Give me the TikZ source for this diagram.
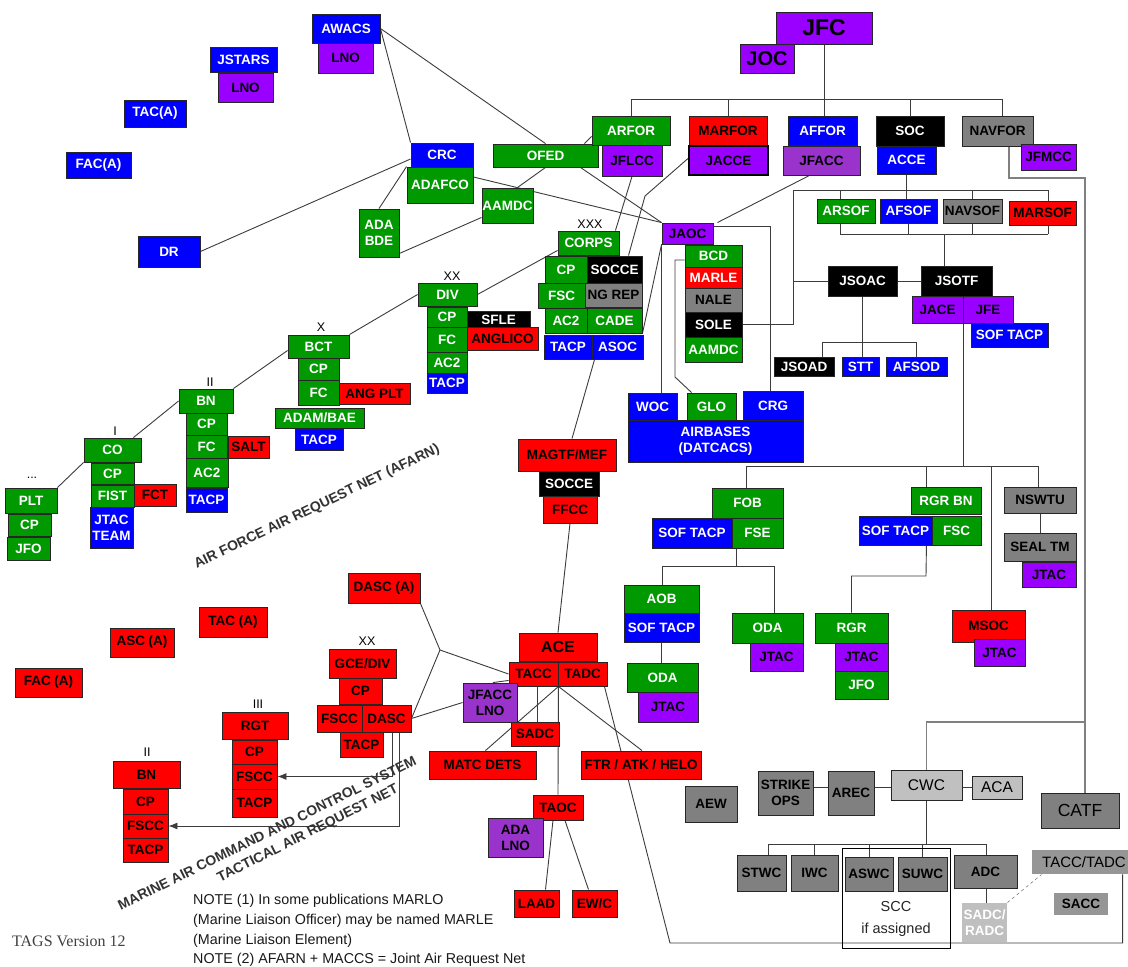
\documentclass[tikz,border=0pt]{standalone}
\usepackage{fontspec}
\newfontfamily\lsans{Liberation Sans}
\newfontfamily\lserif{Liberation Serif}
\usetikzlibrary{calc,arrows.meta}
\pgfdeclarelayer{paper}
\pgfdeclarelayer{wires}
\pgfsetlayers{paper,wires,main}

\definecolor{armygreen}{RGB}{0,153,0}
\definecolor{unitblue}{RGB}{0,0,255}
\definecolor{unitviolet}{RGB}{153,0,255}
\definecolor{unitplum}{RGB}{153,51,204}
\definecolor{unitred}{RGB}{255,0,0}
\definecolor{unitgray}{RGB}{128,128,128}
\definecolor{unitlight}{RGB}{192,192,192}
\definecolor{unitmid}{RGB}{150,150,150}
\definecolor{wirecol}{RGB}{60,60,60}

\newcommand\unitfont{\lsans\bfseries\fontsize{13.5}{16}\selectfont}

% \unitbox{name}{x1}{y1}{x2}{y2}{style}{text}
\newcommand\unitbox[7]{%
  \pgfmathsetmacro\ubw{#4-#2}%
  \pgfmathsetmacro\ubh{#5-#3}%
  \pgfmathsetmacro\ubx{(#2+#4)/2}%
  \pgfmathsetmacro\uby{(#3+#5)/2}%
  \node[unit,#6,minimum width=\ubw pt,minimum height=\ubh pt] (#1) at (\ubx,\uby) {#7};}

\begin{document}
\begin{tikzpicture}[x=1pt,y=-1pt,
  unit/.style={draw=black!85,line width=0.9pt,inner sep=0pt,align=center,font=\unitfont},
  ug/.style={fill=armygreen,text=white},
  ub/.style={fill=unitblue,text=white},
  uk/.style={fill=black,text=white},
  ur/.style={fill=unitred,text=black},
  uv/.style={fill=unitviolet,text=black},
  up/.style={fill=unitplum,text=black},
  uy/.style={fill=unitgray,text=black},
  ul/.style={fill=unitlight,text=black},
  um/.style={fill=unitmid,text=black},
  plain/.style={font=\lsans\fontsize{15}{17}\selectfont},
  echelon/.style={font=\lsans\fontsize{12.5}{13}\selectfont,inner sep=0pt},
  netlabel/.style={font=\lsans\bfseries\fontsize{14}{18}\selectfont,text=black!80,align=center,inner sep=0pt},
  note/.style={font=\lsans\fontsize{14.3}{16}\selectfont,text=black!90,inner sep=0pt},
  wire/.style={draw=wirecol,line width=0.9pt},
  greywire/.style={draw=black!50,line width=1.1pt},
  arrow/.style={-{Latex[length=9pt,width=7pt]}}
]
\begin{pgfonlayer}{paper}
  \fill[white] (0,0) rectangle (1128,967);
\end{pgfonlayer}
\useasboundingbox (0,0) rectangle (1128,967);

% ---------------- air picture, upper left
\unitbox{awacs}{312}{14}{380}{43}{ub}{AWACS}
\unitbox{awlno}{318}{43}{373}{73}{uv}{LNO}
\unitbox{jstars}{210}{47}{277}{72}{ub}{JSTARS}
\unitbox{jslno}{218}{73}{273}{102}{uv}{LNO}
\unitbox{taca}{124}{100}{186}{127}{ub}{TAC(A)}
\unitbox{faca}{66}{152}{131}{178}{ub}{FAC(A)}
\unitbox{dr}{138}{236}{200}{267}{ub}{DR}
\unitbox{crc}{411}{143}{473}{167}{ub}{CRC}
\unitbox{adafco}{407}{167}{473}{203}{ug}{ADAFCO}
\unitbox{adabde}{359}{209}{399}{257}{ug}{ADA\\BDE}
\unitbox{ofed}{493}{144}{598}{167}{ug}{OFED}
\unitbox{aamdca}{482}{188}{533}{223}{ug}{AAMDC}

% ---------------- joint force commander and components
\unitbox{jfc}{776}{12}{872}{44}{uv,font=\lsans\bfseries\fontsize{23}{25}\selectfont}{JFC}
\unitbox{joc}{740}{44}{794}{73}{uv,font=\lsans\bfseries\fontsize{20}{22}\selectfont}{JOC}
\unitbox{arfor}{592}{116}{670}{145}{ug}{ARFOR}
\unitbox{jflcc}{602}{145}{662}{176}{uv}{JFLCC}
\unitbox{marfor}{689}{116}{767}{145}{ur}{MARFOR}
\unitbox{jacce}{689}{146}{768}{175}{uv,line width=2pt,draw=black}{JACCE}
\unitbox{affor}{788}{116}{857}{145}{ub}{AFFOR}
\unitbox{jfacc}{783}{146}{860}{175}{up}{JFACC}
\unitbox{soc}{876}{116}{944}{146}{uk}{SOC}
\unitbox{acce}{877}{146}{936}{174}{ub}{ACCE}
\unitbox{navfor}{962}{116}{1033}{146}{uy}{NAVFOR}
\unitbox{jfmcc}{1021}{144}{1076}{170}{uv}{JFMCC}

% ---------------- special operations
\unitbox{arsof}{817}{199}{875}{223}{ug}{ARSOF}
\unitbox{afsof}{880}{199}{937}{223}{ub}{AFSOF}
\unitbox{navsof}{943}{199}{1002}{223}{uy}{NAVSOF}
\unitbox{marsof}{1009}{201}{1076}{225}{ur}{MARSOF}
\unitbox{jsoac}{828}{266}{897}{296}{uk}{JSOAC}
\unitbox{jsotf}{921}{266}{992}{296}{uk}{JSOTF}
\unitbox{jace}{912}{296}{963}{323}{uv}{JACE}
\unitbox{jfe}{963}{296}{1013}{323}{uv}{JFE}
\unitbox{softacpa}{971}{323}{1048}{347}{ub}{SOF TACP}
\unitbox{jsoad}{774}{357}{834}{376}{uk}{JSOAD}
\unitbox{stt}{842}{357}{879}{376}{ub}{STT}
\unitbox{afsod}{886}{357}{947}{376}{ub}{AFSOD}

% ---------------- JAOC and airbases
\unitbox{jaoc}{662}{223}{713}{244}{uv}{JAOC}
\unitbox{bcd}{685}{245}{742}{267}{ug}{BCD}
\unitbox{marle}{685}{267}{742}{288}{fill=unitred,text=white}{MARLE}
\unitbox{nale}{685}{288}{742}{312}{uy}{NALE}
\unitbox{sole}{685}{312}{742}{337}{uk}{SOLE}
\unitbox{aamdcb}{685}{337}{742}{362}{ug}{AAMDC}
\unitbox{woc}{628}{393}{677}{420}{ub}{WOC}
\unitbox{glo}{687}{393}{736}{420}{ug}{GLO}
\unitbox{crg}{743}{391}{803}{420}{ub}{CRG}
\unitbox{airb}{628}{420}{803}{462}{ub}{AIRBASES\\(DATCACS)}

% ---------------- army echelons
\unitbox{corps}{558}{231}{619}{255}{ug}{CORPS}
\unitbox{ccp}{545}{256}{587}{283}{ug}{CP}
\unitbox{soccea}{587}{256}{642}{283}{uk}{SOCCE}
\unitbox{fsca}{538}{283}{585}{308}{ug}{FSC}
\unitbox{ngrep}{585}{283}{642}{307}{uy}{NG REP}
\unitbox{cacb}{545}{308}{587}{333}{ug}{AC2}
\unitbox{cade}{587}{308}{642}{333}{ug}{CADE}
\unitbox{ctacp}{544}{335}{592}{359}{ub}{TACP}
\unitbox{asoc}{592}{335}{643}{359}{ub}{ASOC}

\unitbox{div}{418}{283}{477}{306}{ug}{DIV}
\unitbox{dcp}{427}{307}{467}{327}{ug}{CP}
\unitbox{sfle}{467}{311}{530}{328}{uk}{SFLE}
\unitbox{dfc}{427}{327}{467}{352}{ug}{FC}
\unitbox{anglico}{467}{327}{538}{350}{ur}{ANGLICO}
\unitbox{dac}{427}{352}{467}{373}{ug}{AC2}
\unitbox{dtacp}{427}{373}{467}{393}{ub}{TACP}

\unitbox{bct}{288}{335}{349}{358}{ug}{BCT}
\unitbox{bcp}{298}{358}{339}{380}{ug}{CP}
\unitbox{bfc}{298}{380}{339}{405}{ug}{FC}
\unitbox{angplt}{339}{383}{410}{404}{ur}{ANG PLT}
\unitbox{adam}{275}{408}{364}{428}{ug}{ADAM/BAE}
\unitbox{btacp}{295}{429}{343}{450}{ub}{TACP}

\unitbox{bn}{179}{389}{233}{413}{ug}{BN}
\unitbox{ncp}{186}{413}{227}{435}{ug}{CP}
\unitbox{nfc}{186}{435}{227}{458}{ug}{FC}
\unitbox{salt}{228}{436}{269}{458}{ur}{SALT}
\unitbox{nac}{186}{458}{228}{487}{ug}{AC2}
\unitbox{ntacp}{186}{488}{227}{512}{ub}{TACP}

\unitbox{co}{84}{438}{141}{462}{ug}{CO}
\unitbox{ocp}{91}{463}{134}{484}{ug}{CP}
\unitbox{fist}{91}{485}{134}{507}{ug}{FIST}
\unitbox{fct}{134}{484}{176}{506}{ur}{FCT}
\unitbox{jtacteam}{90}{507}{133}{548}{ub}{JTAC\\TEAM}

\unitbox{plt}{5}{488}{57}{513}{ug}{PLT}
\unitbox{pcp}{8}{514}{51}{536}{ug}{CP}
\unitbox{jfoa}{7}{537}{50}{560}{ug}{JFO}

\node[echelon] (eXXX) at (590,224) {XXX};
\node[echelon] (eXX) at (452,276) {XX};
\node[echelon] (eX) at (321,327) {X};
\node[echelon] (eII) at (210,382) {II};
\node[echelon] (eI) at (115,431) {I};
\node[echelon] (eDots) at (32,478) {...};

% ---------------- SOF ground units
\unitbox{fob}{712}{488}{783}{518}{ug}{FOB}
\unitbox{softacpb}{652}{518}{732}{548}{ub}{SOF TACP}
\unitbox{fse}{732}{518}{783}{548}{ug}{FSE}
\unitbox{aob}{624}{585}{699}{613}{ug}{AOB}
\unitbox{softacpc}{624}{613}{699}{642}{ub}{SOF TACP}
\unitbox{odaa}{627}{663}{698}{692}{ug}{ODA}
\unitbox{jtaca}{638}{692}{698}{722}{uv}{JTAC}
\unitbox{odab}{732}{613}{803}{643}{ug}{ODA}
\unitbox{jtacb}{750}{643}{803}{671}{uv}{JTAC}
\unitbox{rgrbn}{911}{487}{981}{514}{ug}{RGR BN}
\unitbox{softacpd}{859}{516}{932}{545}{ub}{SOF TACP}
\unitbox{fscb}{932}{516}{981}{545}{ug}{FSC}
\unitbox{rgr}{815}{613}{888}{643}{ug}{RGR}
\unitbox{jtacc}{835}{643}{888}{671}{uv}{JTAC}
\unitbox{jfob}{835}{671}{888}{699}{ug}{JFO}
\unitbox{msoc}{952}{610}{1025}{642}{ur}{MSOC}
\unitbox{jtacd}{974}{639}{1025}{666}{uv}{JTAC}
\unitbox{nswtu}{1004}{487}{1076}{513}{uy}{NSWTU}
\unitbox{sealtm}{1004}{533}{1076}{561}{uy}{SEAL TM}
\unitbox{jtace}{1022}{562}{1076}{587}{uv}{JTAC}

% ---------------- naval forces
\unitbox{strike}{758}{771}{813}{815}{uy}{STRIKE\\OPS}
\unitbox{arec}{828}{771}{874}{815}{uy}{AREC}
\unitbox{cwc}{891}{770}{962}{800}{ul,font=\lsans\fontsize{15.5}{17}\selectfont}{CWC}
\unitbox{aca}{972}{776}{1022}{799}{ul,font=\lsans\fontsize{15.5}{17}\selectfont}{ACA}
\unitbox{catf}{1041}{793}{1119}{828}{uy,font=\lsans\fontsize{17.5}{19}\selectfont}{CATF}
\unitbox{aew}{685}{786}{737}{822}{uy}{AEW}
\unitbox{stwc}{737}{855}{786}{891}{uy}{STWC}
\unitbox{iwc}{791}{855}{838}{891}{uy}{IWC}
\unitbox{aswc}{845}{857}{893}{891}{uy}{ASWC}
\unitbox{suwc}{898}{857}{947}{891}{uy}{SUWC}
\unitbox{adc}{954}{855}{1017}{888}{uy}{ADC}
\unitbox{tacctadc}{1032}{850}{1136}{874}{um,draw=none,font=\lsans\fontsize{15}{17}\selectfont}{TACC/TADC}
\unitbox{sacc}{1054}{893}{1108}{915}{um,draw=none}{SACC}
\unitbox{sadcb}{962}{903}{1007}{942}{fill=black!25,text=white,draw=none}{SADC/\\RADC}
\node[draw=black,line width=0.8pt,minimum width=108pt,minimum height=100pt,inner sep=0pt] (scc) at (896,898) {};
\node[plain,align=center,text=black!85,font=\lsans\fontsize{14.5}{22}\selectfont] (scctext) at (896,919) {SCC\\if assigned};

% ---------------- marine air-ground task force
\unitbox{magtf}{518}{439}{616}{471}{ur}{MAGTF/MEF}
\unitbox{socceb}{539}{471}{599}{496}{uk}{SOCCE}
\unitbox{ffcc}{543}{496}{597}{523}{ur}{FFCC}
\unitbox{dasca}{348}{573}{420}{603}{ur}{DASC (A)}
\unitbox{tacA}{199}{607}{267}{637}{ur}{TAC (A)}
\unitbox{ascA}{110}{628}{174}{657}{ur}{ASC (A)}
\unitbox{facA}{15}{668}{82}{697}{ur}{FAC (A)}
\unitbox{gcediv}{329}{649}{396}{678}{ur}{GCE/DIV}
\unitbox{gcp}{339}{678}{382}{704}{ur}{CP}
\unitbox{gfscc}{317}{705}{362}{732}{ur}{FSCC}
\unitbox{dasc}{362}{705}{411}{732}{ur}{DASC}
\unitbox{gtacp}{340}{732}{383}{757}{ur}{TACP}
\unitbox{rgt}{222}{712}{288}{739}{ur}{RGT}
\unitbox{rcp}{232}{740}{277}{764}{ur}{CP}
\unitbox{rfscc}{232}{764}{277}{789}{ur}{FSCC}
\unitbox{rtacp}{232}{789}{277}{817}{ur}{TACP}
\unitbox{mbn}{113}{761}{180}{788}{ur}{BN}
\unitbox{mcp}{123}{789}{168}{814}{ur}{CP}
\unitbox{mfscc}{123}{814}{168}{838}{ur}{FSCC}
\unitbox{mtacp}{123}{838}{168}{862}{ur}{TACP}
\unitbox{ace}{519}{633}{597}{661}{ur,font=\lsans\bfseries\fontsize{16}{18}\selectfont}{ACE}
\unitbox{tacc}{509}{662}{558}{686}{ur}{TACC}
\unitbox{tadc}{558}{662}{607}{686}{ur}{TADC}
\unitbox{jfacclno}{463}{683}{517}{722}{up}{JFACC\\LNO}
\unitbox{sadc}{511}{722}{559}{746}{ur}{SADC}
\unitbox{matc}{429}{751}{536}{779}{ur}{MATC DETS}
\unitbox{ftr}{581}{751}{701}{779}{ur}{FTR / ATK / HELO}
\unitbox{taoc}{533}{795}{583}{820}{ur}{TAOC}
\unitbox{adalno}{488}{818}{543}{857}{up}{ADA\\LNO}
\unitbox{laad}{514}{890}{559}{917}{ur}{LAAD}
\unitbox{ewc}{572}{890}{617}{917}{ur}{EW/C}

\node[echelon] (mXX) at (367,641) {XX};
\node[echelon] (mIII) at (258,704) {III};
\node[echelon] (mII) at (147,752) {II};

% ---------------- net labels and notes
\node[netlabel,rotate=25.6] (afarn) at (317,507) {AIR FORCE AIR REQUEST NET (AFARN)};
\node[netlabel,rotate=26.3] (maccs) at (267,833) {MARINE AIR COMMAND AND CONTROL SYSTEM};
\node[netlabel,rotate=26.8] (tarn) at (308,834) {TACTICAL AIR REQUEST NET};
\node[note,anchor=base west] (notea) at (193,904) {NOTE (1) In some publications MARLO};
\node[note,anchor=base west] (noteb) at (193,924) {(Marine Liaison Officer) may be named MARLE};
\node[note,anchor=base west] (notec) at (193,944) {(Marine Liaison Element)};
\node[note,anchor=base west] (noted) at (193,963) {NOTE (2) AFARN + MACCS = Joint Air Request Net};
\node[anchor=west,inner sep=0pt,text=black!75,font=\lserif\fontsize{16}{18}\selectfont] (tags) at (12,941) {TAGS Version 12};

% ---------------- connectors
\begin{pgfonlayer}{wires}
\begin{scope}[every path/.append style={wire}]
  % air picture links
  \draw (awacs.east) -- (crc.north west);
  \draw (awacs.east) -- (ofed.north);
  \draw (dr.east) -- ($(crc.west)+(0,4)$);
  \draw (adabde.north) -- (adafco.north west);
  \draw ($(adabde.south east)+(0,-4)$) -- ($(aamdca.south west)+(0,-6)$);
  \draw ($(aamdca.north east)+(-16,0)$) -- (ofed.south);
  \draw ($(adafco.east)+(0,-8)$) -- (jaoc.north west);
  \draw ($(ofed.south east)+(-18,0)$) -- (jaoc.north west);
  \draw ($(arfor.west)+(0,6)$) -- ($(ofed.north east)+(-14,0)$);
  \draw (jflcc.south) -- ($(corps.north east)+(-4,0)$);
  \coordinate (jbend) at (645,196);
  \draw ($(jacce.west)+(0,-2)$) -- (jbend) -- ($(soccea.north)+(14,0)$);
  \draw ($(jfacc.south)+(-12,0)$) -- ($(jaoc.north east)+(4,0)$);
  \draw ($(jaoc.north east)+(0,4)$) -| ($(crg.north)+(-3,0)$);
  \draw (jaoc.south west) -- (jaoc.south west |- woc.north);
  \coordinate (gbenda) at (675,260);
  \coordinate (gbendb) at (675,377);
  \draw (bcd.west |- gbenda) -- (gbenda) -- (gbendb) -- ($(glo.north west)+(5,0)$);
  \draw (jaoc.south west) -- (cade.south east);
  \draw ($(asoc.south west)+(3,0)$) -- ($(magtf.north)+(5,0)$);
  \draw (ffcc.south) -- (ace.north);

  % army chain
  \draw (plt.north east) -- (co.south west);
  \draw ($(co.north east)+(-8,0)$) -- (bn.west);
  \draw (bn.north east) -- ($(bct.west)+(0,4)$);
  \draw (bct.north east) -- (div.west);
  \draw (div.east) -- ($(corps.south west)+(0,-5)$);

  % marine links
  \coordinate (mj) at (440,650);
  \draw (dasca.south east) -- (mj) -- (tacc.west);
  \draw (mj) -- (dasc.east);
  \draw (jfacclno.west) -- (dasc.east);
  \draw ($(jfacclno.north)+(3,0)$) -- ($(tacc.south west)+(0,-6)$);
  \draw (tacc.south east) -- (taoc.north);
  \draw (tacc.south east) -- ($(matc.north east)+(-51,0)$);
  \draw (tacc.south east) -- ($(ftr.north)+(1,0)$);
  \draw ($(tacc.south)+(4,0)$) -- ($(sadc.north)+(2.5,0)$);
  \coordinate (bl) at (670,943);
  \draw ($(tadc.south east)+(-3,0)$) -- (bl) -| ($(tacctadc.south west)+(91,0)$);
  \draw ($(taoc.south)+(-5,0)$) -- ($(laad.north)+(9,0)$);
  \draw ($(taoc.south)+(7,0)$) -- ($(ewc.north)+(-6,0)$);
  \draw[arrow] ($(dasc.south)+(6,0)$) |- (rfscc.east);
  \draw[arrow] ($(dasc.south)+(13,0)$) |- (mfscc.east);

  % JFC to components
  \draw (jfc.south) -- (jfc.south |- affor.north);
  \draw (arfor.north) -- ++(0,-16) -| ($(navfor.north)+(4.5,0)$);
  \draw (marfor.north) -- ++(0,-16);
  \draw (soc.north) -- ++(0,-16);

  % special operations tree
  \coordinate (sta) at (793,190);
  \coordinate (stb) at (1048,190);
  \coordinate (sba) at (840,234);
  \coordinate (sbb) at (1048,234);
  \draw (sole.east) -| (sta) -- (stb) -- (stb |- marsof.north);
  \draw (acce.south) -- (acce.south |- afsof.north);
  \draw (arsof.north -| sba) -- (sta -| sba);
  \draw (navsof.north) -- (navsof.north |- sta);
  \draw (sba) -- (sbb);
  \draw (arsof.south -| sba) -- (sba);
  \draw (afsof.south) -- (afsof.south |- sba);
  \draw (navsof.south) -- (navsof.south |- sba);
  \draw (marsof.south -| sbb) -- (sbb);
  \coordinate (jt) at (944,234);
  \draw (jt) -- (jt |- jsotf.north);
  \draw (jsoac.west) -- (jsoac.west -| sta);
  \draw (jsoac.east) -- (jsotf.west);
  \coordinate (jaa) at (822,342);
  \coordinate (jab) at (916,342);
  \draw (jsoac.south) -- (jsoac.south |- stt.north);
  \draw (jsoad.north -| jaa) -- (jaa) -- (jab) -- (afsod.north -| jab);

  % SOF ground units
  \coordinate (fba) at (746,466);
  \coordinate (fbb) at (1038,466);
  \coordinate (fbc) at (926,466);
  \coordinate (fbd) at (991,466);
  \draw (jace.south east) -- (jace.south east |- fba);
  \draw (fob.north -| fba) -- (fba) -- (fbb) -- (nswtu.north -| fbb);
  \draw (fbc) -- (rgrbn.north -| fbc);
  \draw (fbd) -- (msoc.north -| fbd);
  \coordinate (fsa) at (662,566);
  \coordinate (fsb) at (774,566);
  \draw ($(fse.south west)+(5,0)$) -- ($(fse.south west)+(5,18)$);
  \draw (aob.north -| fsa) -- (fsa) -- (fsb) -- (odab.north -| fsb);
  \draw (softacpc.south) -- (softacpc.south |- odaa.north);
  \coordinate (rga) at (926,576);
  \draw ($(softacpd.south east)+(-6,0)$) -- (rga) -| (rgr.north);
  \draw (nswtu.south) -- (sealtm.north);

  % naval forces
  \coordinate (nva) at (1085,178);
  \coordinate (nvb) at (1085,722);
  \draw[greywire] ($(navfor.south)+(11.5,0)$) |- (nva) -- ($(catf.north)+(5,0)$);
  \draw[greywire] (nvb) -| (cwc.north);
  \draw (strike.east |- aca.west) -- (aca.west);
  \coordinate (nba) at (768,844);
  \coordinate (nbb) at (986,844);
  \draw (cwc.south) -- (cwc.south |- nba);
  \draw (stwc.north -| nba) -- (nba) -- (nbb) -- (adc.north -| nbb);
  \draw (iwc.north) -- (iwc.north |- nba);
  \draw (aswc.north) -- (aswc.north |- nba);
  \draw (suwc.north) -- (suwc.north |- nba);
  \draw (adc.south -| nbb) -- (sadcb.north -| nbb);
  \draw[line width=0.5pt,dashed,draw=black!60] (sadcb.north east) -- ($(tacctadc.south west)+(10,0)$);
\end{scope}
\end{pgfonlayer}
\end{tikzpicture}
\end{document}
